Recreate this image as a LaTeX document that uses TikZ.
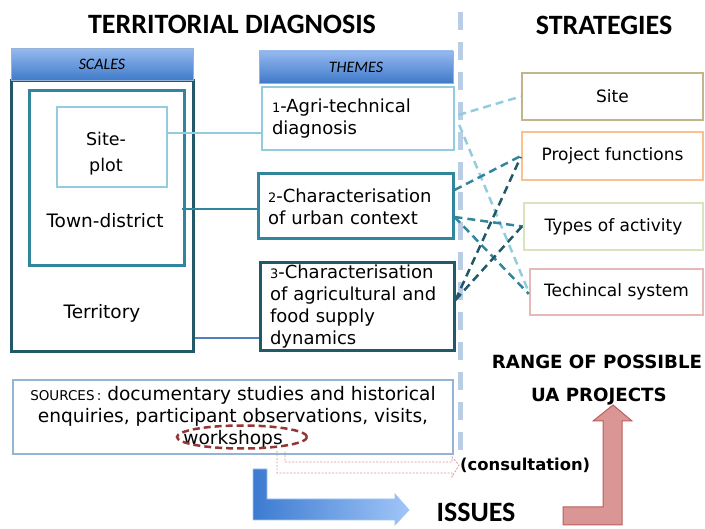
\documentclass[tikz,border=0pt]{standalone}
\usepackage{fontspec}
\setmainfont{DejaVu Sans}
\newfontfamily\calib{Carlito}
\usetikzlibrary{arrows.meta, positioning, shapes.geometric}

\definecolor{paleteal}{HTML}{93CDDD}
\definecolor{midteal}{HTML}{31859C}
\definecolor{darkteal}{HTML}{215968}
\definecolor{sepblue}{HTML}{B9CDE5}
\definecolor{srcblue}{HTML}{95B3D7}
\definecolor{ringred}{HTML}{943634}
\definecolor{pinkred}{HTML}{D99694}
\definecolor{redline}{HTML}{B9605E}
\definecolor{tanbrown}{HTML}{C4B48C}
\definecolor{peach}{HTML}{FAC090}
\definecolor{palegreen}{HTML}{D7E4BD}
\definecolor{palepink}{HTML}{E6B9B8}
\definecolor{headtop}{HTML}{95B9F0}
\definecolor{headbot}{HTML}{3F7AC9}
\definecolor{arrowdark}{HTML}{3C7BD0}
\definecolor{arrowlight}{HTML}{A0C5F8}
\definecolor{linkblue}{HTML}{4F81BD}

\newcommand\nohyph{\hyphenpenalty=10000\relax\exhyphenpenalty=10000\relax}

\tikzset{
  every node/.style={font=\fontsize{18.5}{22}\selectfont},
  title/.style={font=\calib\bfseries\fontsize{28}{28}\selectfont},
  bigcap/.style={font=\bfseries\fontsize{18.2}{18}\selectfont},
  header/.style={draw=srcblue, line width=0.8, top color=headtop, bottom color=headbot,
    minimum height=32, font=\calib\itshape\fontsize{16}{16}\selectfont},
  box/.style={draw, line width=3, inner sep=0},
  theme/.style={draw, line width=3, align=left, inner xsep=10, inner ysep=0,
    font=\fontsize{18}{22}\selectfont, execute at begin node=\nohyph},
  stratbox/.style={draw, line width=2.5, inner sep=0, font=\fontsize{17}{20}\selectfont},
  dashlink/.style={line width=2.5, dash pattern=on 8pt off 5pt},
  sepline/.style={sepblue, line width=5, dash pattern=on 18pt off 12pt},
}

\begin{document}
\begin{tikzpicture}[x=1pt, y=-1pt]
\useasboundingbox (0,0) rectangle (705,529);
%Titles:
\node (diag) [title] at (232,24) {TERRITORIAL DIAGNOSIS};
\node (strategies) [title] at (604,25) {STRATEGIES};
\coordinate (septop) at (460,12);
\coordinate (sepbot) at (460,452);
\draw [sepline] (septop) -- (sepbot);
%Scales:
\node (terr) [box, draw=darkteal, minimum width=182, minimum height=271] at (102,216.5) {};
\node (scales) [header, minimum width=182] at (102,64.5) {SCALES};
\node (town) [box, draw=midteal, minimum width=155, minimum height=175] at (106.5,178.5) {};
\node (site) [box, draw=paleteal, line width=2, minimum width=110, minimum height=80] at (112,147) {};
\node (sitelbl) [align=center, font=\fontsize{17.5}{26}\selectfont] at (106,154) {Site-\\plot};
\node (townlbl) at (105,221) {Town-district};
\node (terrlbl) at (102,313) {Territory};
%Themes:
\node (themes) [header, minimum width=194] at (356,67) {THEMES};
\node (th1) [theme, draw=paleteal, line width=2.5, minimum width=192, minimum height=63, text width=172] at (358,118.5)
  {{\fontsize{13}{12}\selectfont 1}-Agri-technical\\diagnosis};
\node (th2) [theme, draw=midteal, minimum width=195, minimum height=65, text width=175] at (355.5,206.5)
  {{\fontsize{13}{12}\selectfont 2}-Characterisation\\of urban context};
\node (th3) [theme, draw=darkteal, minimum width=194, minimum height=88, text width=174] at (357,307)
  {{\fontsize{13}{12}\selectfont 3}-Characterisation\\of agricultural and\\food supply\\dynamics};
\draw [paleteal, line width=2] ([yshift=14]site.east) -- ([yshift=14]site.east -| th1.west);
\draw [midteal, line width=2.5] ([xshift=-4,yshift=-30.5]town.east) -- ([yshift=-30.5]town.east -| th2.west);
\draw [linkblue, line width=1.5] ([yshift=-121.5]terr.east) -- ([yshift=-121.5]terr.east -| th3.west);
%Strategies:
\node (sitestr) [stratbox, draw=tanbrown, minimum width=181, minimum height=47] at (612.5,96.5) {Site};
\node (funcs) [stratbox, draw=peach, minimum width=181, minimum height=48] at (612.5,156) {Project functions};
\node (types) [stratbox, draw=palegreen, minimum width=179, minimum height=47] at (613.5,226.5) {Types of activity};
\node (tech) [stratbox, draw=palepink, minimum width=173, minimum height=46] at (616.5,292) {Techincal system};
\path [dashlink, paleteal]
([xshift=3,yshift=3.5]th1.east) edge (sitestr.west)
([xshift=4,yshift=-6.5]th1.east) edge (tech.west);
\path [dashlink, midteal]
([yshift=16.5]th2.east) edge (funcs.west)
([yshift=-10.5]th2.east) edge (types.west)
([yshift=-10.5]th2.east) edge ([yshift=-2]tech.west);
\path [dashlink, darkteal]
([yshift=7]th3.east) edge ([yshift=-1]funcs.west)
([yshift=7]th3.east) edge ([yshift=1]types.west);
%Sources:
\node (sources) [draw=srcblue, line width=1.2, minimum width=440, minimum height=74, inner sep=0,
  align=center, font=\fontsize{18.6}{22}\selectfont] at (233,417)
  {{\fontsize{13.5}{12}\selectfont SOURCES\,:} documentary studies and historical\\enquiries, participant observations, visits,\\workshops};
\node (wsring) [ellipse, draw=ringred, line width=2.5, dash pattern=on 7pt off 4pt,
  minimum width=130, minimum height=23, inner sep=0] at (242,437) {};
\node (cons) [bigcap, font=\bfseries\fontsize{16.4}{16}\selectfont, anchor=west, inner xsep=1] at (459,465) {(consultation)};
\draw [pinkred, line width=0.8, dash pattern=on 2pt off 1.5pt]
(277,451) -- (277,473) -- (452,473) -- (452,477) -- (cons.west) -- (452,457) -- (452,462) -- (285,462) -- (285,451);
%Outcomes:
\shadedraw [left color=arrowdark, right color=arrowlight, draw=arrowlight, line width=0.8]
(253,469) -- (267,469) -- (267,499) -- (395,499) -- (395,494) -- (409,510) -- (395,525) -- (395,520) -- (253,520) -- cycle;
\node (issues) [title] at (476,512) {ISSUES};
\node (range) [bigcap] at (597,362) {RANGE OF POSSIBLE};
\node (uaproj) [bigcap] at (599,397) {UA PROJECTS};
\draw [fill=pinkred, draw=redline, line width=1]
(613,405) -- (632,421) -- (622,421) -- (622,525) -- (563,525) -- (563,507) -- (603,507) -- (603,421) -- (593,421) -- cycle;
\end{tikzpicture}
\end{document}
